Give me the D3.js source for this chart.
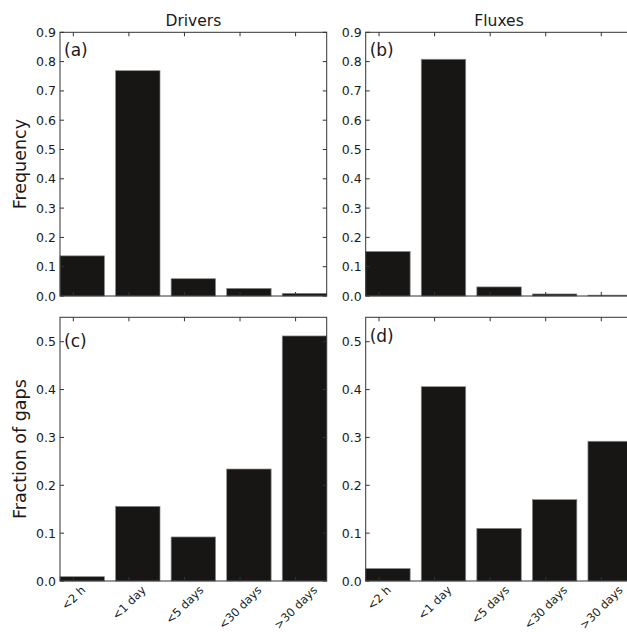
<!DOCTYPE html>
<html>
<head>
<meta charset="utf-8">
<script src="https://cdn.jsdelivr.net/npm/d3@7"></script>
<style>
  body { margin: 0; background: #fff; }
  text { font-family: "DejaVu Sans", sans-serif; fill: #1a1a1a; }
</style>
</head>
<body>
<div id="chart"></div>
<script>
var categories = ["<2 h", "<1 day", "<5 days", "<30 days", ">30 days"];
var driversFreq = [0.137, 0.769, 0.059, 0.026, 0.009];
var fluxesFreq = [0.152, 0.808, 0.031, 0.007, 0.003];
var driversGaps = [0.009, 0.156, 0.092, 0.234, 0.512];
var fluxesGaps = [0.026, 0.406, 0.110, 0.170, 0.292];
var freqTicks = [0, 0.1, 0.2, 0.3, 0.4, 0.5, 0.6, 0.7, 0.8, 0.9];
var gapTicks = [0, 0.1, 0.2, 0.3, 0.4, 0.5];
var colTitles = ["Drivers", "Fluxes"];

var width = 627, height = 632;
var pw = 266.7, ph = 263.7;
var lefts = [60, 365.7], tops = [32.3, 317.3];
var barW = 0.8, tickOff = 0.24;

var panels = [
  { label: "(a)", values: driversFreq, ticks: freqTicks, ymax: 0.9, col: 0, row: 0, ly: 18 },
  { label: "(b)", values: fluxesFreq, ticks: freqTicks, ymax: 0.9, col: 1, row: 0, ly: 18 },
  { label: "(c)", values: driversGaps, ticks: gapTicks, ymax: 0.551, col: 0, row: 1, ly: 24 },
  { label: "(d)", values: fluxesGaps, ticks: gapTicks, ymax: 0.551, col: 1, row: 1, ly: 19 }
];

var svg = d3.select("#chart")
  .append("svg")
  .attr("width", width)
  .attr("height", height);

var fmt = d3.format(".1f");

panels.forEach(function(p) {
  var x0 = lefts[p.col], y0 = tops[p.row];
  var xScale = d3.scaleLinear().domain([0, categories.length - 1 + barW]).range([x0, x0 + pw]);
  var yScale = d3.scaleLinear().domain([0, p.ymax]).range([y0 + ph, y0]);
  var g = svg.append("g");

  // bars
  g.selectAll("rect.bar")
    .data(p.values)
    .enter().append("rect")
    .attr("class", "bar")
    .attr("x", function(d, i) { return xScale(i); })
    .attr("width", function(d, i) { return xScale(i + barW) - xScale(i); })
    .attr("y", function(d) { return yScale(d); })
    .attr("height", function(d) { return yScale(0) - yScale(d); })
    .attr("fill", "#171614")
    .attr("stroke", "#8a8a8a")
    .attr("stroke-width", 0.7);

  // frame
  g.append("rect")
    .attr("x", x0).attr("y", y0)
    .attr("width", pw).attr("height", ph)
    .attr("fill", "none")
    .attr("stroke", "#333")
    .attr("stroke-width", 1);

  // y ticks (inward, both sides)
  var yt = g.selectAll("g.yt").data(p.ticks).enter().append("g");
  yt.append("line")
    .attr("x1", x0).attr("x2", x0 + 4)
    .attr("y1", function(d) { return yScale(d); })
    .attr("y2", function(d) { return yScale(d); })
    .attr("stroke", "#333");
  yt.append("line")
    .attr("x1", x0 + pw).attr("x2", x0 + pw - 4)
    .attr("y1", function(d) { return yScale(d); })
    .attr("y2", function(d) { return yScale(d); })
    .attr("stroke", "#333");
  yt.append("text")
    .attr("x", x0 - 4)
    .attr("y", function(d) { return yScale(d); })
    .attr("dy", "0.36em")
    .attr("text-anchor", "end")
    .attr("font-size", "12.5px")
    .text(function(d) { return fmt(d); });

  // x ticks (inward, top and bottom)
  var xt = g.selectAll("g.xt").data(categories).enter().append("g");
  xt.append("line")
    .attr("x1", function(d, i) { return xScale(i + tickOff); })
    .attr("x2", function(d, i) { return xScale(i + tickOff); })
    .attr("y1", y0 + ph).attr("y2", y0 + ph - 4)
    .attr("stroke", "#333");
  xt.append("line")
    .attr("x1", function(d, i) { return xScale(i + tickOff); })
    .attr("x2", function(d, i) { return xScale(i + tickOff); })
    .attr("y1", y0).attr("y2", y0 + 4)
    .attr("stroke", "#333");

  if (p.row === 1) {
    xt.append("text")
      .attr("font-size", "11.5px")
      .attr("text-anchor", "middle")
      .attr("dy", "0.35em")
      .text(function(d) { return d; })
      .attr("transform", function(d, i) {
        var w = this.getComputedTextLength();
        var half = (w + 11) * Math.SQRT1_2 / 2;
        return "translate(" + xScale(i + tickOff) + "," + (y0 + ph + 3 + half) + ") rotate(-45)";
      });
  }

  // panel label
  g.append("text")
    .attr("x", x0 + 4)
    .attr("y", y0 + p.ly)
    .attr("dy", "0.36em")
    .attr("font-size", "17px")
    .text(p.label);

  if (p.row === 0) {
    g.append("text")
      .attr("x", x0 + pw / 2)
      .attr("y", y0 - 6)
      .attr("text-anchor", "middle")
      .attr("font-size", "15.5px")
      .text(colTitles[p.col]);
  }
});

// y axis titles
svg.append("text")
  .attr("transform", "translate(26," + (tops[0] + ph / 2) + ") rotate(-90)")
  .attr("text-anchor", "middle")
  .attr("font-size", "17.5px")
  .text("Frequency");

svg.append("text")
  .attr("transform", "translate(26," + (tops[1] + ph / 2) + ") rotate(-90)")
  .attr("text-anchor", "middle")
  .attr("font-size", "17.5px")
  .text("Fraction of gaps");
</script>
</body>
</html>
